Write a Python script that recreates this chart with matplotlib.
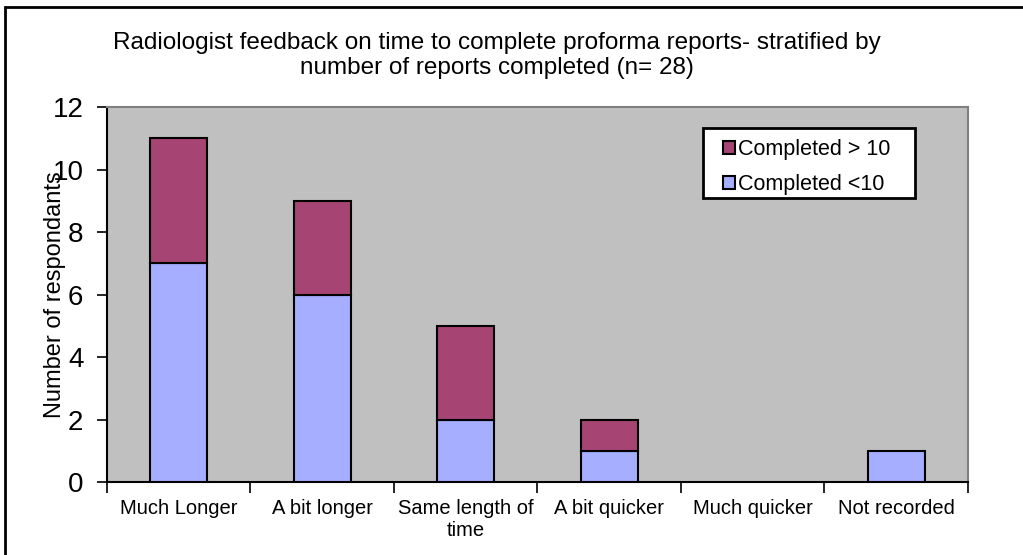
import matplotlib.pyplot as plt
import numpy as np
from matplotlib.patches import Rectangle

plt.rcParams["font.family"] = ["Liberation Sans", "DejaVu Sans"]

categories = ["Much Longer", "A bit longer", "Same length of\ntime",
              "A bit quicker", "Much quicker", "Not recorded"]
under_10 = [7, 6, 2, 1, 0, 1]
over_10 = [4, 3, 3, 1, 0, 0]

blue = "#a6aeff"
purple = "#a64474"

fig = plt.figure(figsize=(10.23, 5.55), dpi=100)
ax = fig.add_axes([0.1046, 0.1315, 0.8416, 0.6755])
ax.set_facecolor("#c0c0c0")

x = np.arange(len(categories))
# only draw non-zero segments
ub = [v if v > 0 else np.nan for v in under_10]
ob = [v if v > 0 else np.nan for v in over_10]
ax.bar(x, ub, width=0.4, color=blue, edgecolor="black", linewidth=1.5,
       label="Completed <10", zorder=3)
ax.bar(x, ob, width=0.4, bottom=under_10, color=purple, edgecolor="black",
       linewidth=1.5, label="Completed > 10", zorder=3)

ax.set_xlim(-0.5, len(categories) - 0.5)
ax.set_ylim(0, 12)
ax.set_yticks(range(0, 13, 2))
ax.tick_params(axis="y", labelsize=20, length=7, width=1.2, direction="out", pad=10)
ax.set_xticks(x)
ax.set_xticklabels(categories, fontsize=14.5)
ax.tick_params(axis="x", length=0, pad=12)
ax.set_xticks(np.arange(-0.5, len(categories)), minor=True)
ax.tick_params(axis="x", which="minor", length=8, width=1.2, direction="out")

for s in ["top", "right"]:
    ax.spines[s].set_color("#808080")
    ax.spines[s].set_linewidth(1.5)
for s in ["left", "bottom"]:
    ax.spines[s].set_color("black")
    ax.spines[s].set_linewidth(1.5)

ax.set_ylabel("Number of respondants", fontsize=17, labelpad=-10)

# legend box drawn separately so its padding matches the original
ax.add_patch(Rectangle((703 / 1023, 1 - 198 / 555), 212 / 1023, 70 / 555,
                       transform=fig.transFigure, facecolor="white",
                       edgecolor="black", linewidth=2, zorder=4, clip_on=False))
handles, labels = ax.get_legend_handles_labels()
leg = ax.legend(handles[::-1], labels[::-1], loc="upper left",
                bbox_to_anchor=(719 / 1023, 1 - 135 / 555),
                bbox_transform=fig.transFigure, fontsize=15.5, frameon=False,
                handlelength=0.55, handleheight=0.55, handletextpad=0.15,
                borderpad=0.2, labelspacing=0.62, borderaxespad=0)
leg.set_zorder(5)

fig.text(0.486, 0.9, "Radiologist feedback on time to complete proforma reports- stratified by\nnumber of reports completed (n= 28)",
         ha="center", va="center", fontsize=17.5, linespacing=1.2)

# outer frame around the chart
fig.patches.append(Rectangle((5 / 1023, -0.1), 1.2, 1.1 - 7 / 555,
                             transform=fig.transFigure, fill=False,
                             edgecolor="black", linewidth=2))

fig.savefig("out.png", dpi=100)
